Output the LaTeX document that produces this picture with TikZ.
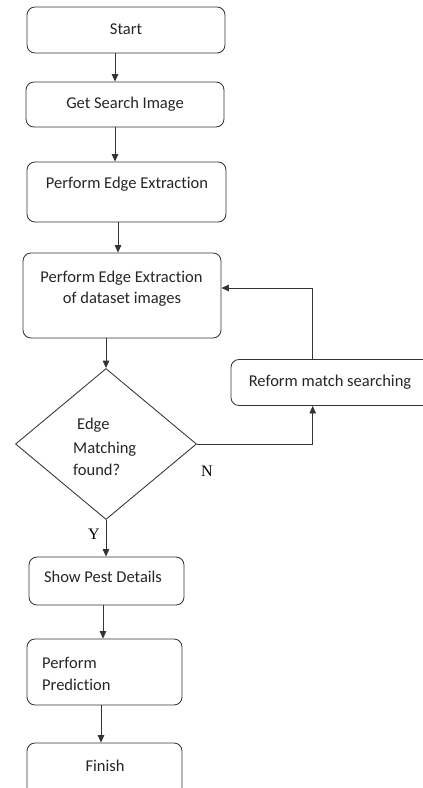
\documentclass[tikz,border=0pt]{standalone}
\usepackage{fontspec}
\setmainfont{Carlito}[Ligatures=NoCommon]
\newfontfamily\labelfont{Liberation Serif}
\usetikzlibrary{arrows.meta,shapes.geometric}

\tikzset{
  flowline/.style={draw=black!80, line width=0.85pt},
  flowarrow/.style={flowline, -{Triangle[length=7.5pt,width=6.5pt]}},
  procbox/.style={flowline, rectangle, rounded corners=8pt, inner sep=0pt, fill=white},
  decbox/.style={flowline, diamond, inner sep=0pt, fill=white},
  txt/.style={inner sep=0pt, anchor=base, text=black!85, font=\fontsize{16.5}{19}\selectfont},
  txtl/.style={txt, anchor=base west},
  yn/.style={inner sep=0pt, anchor=base, font=\labelfont\fontsize{16}{19}\selectfont}
}

\begin{document}
\begin{tikzpicture}[x=1pt, y=-1pt]
  \useasboundingbox (0,0) rectangle (423,788);
  \clip (0,0) rectangle (423,788);

  % process boxes and decision
  \node[procbox, minimum width=198pt, minimum height=46pt] (start)  at (126,30)    {};
  \node[procbox, minimum width=198pt, minimum height=45pt] (get)    at (125,104.5) {};
  \node[procbox, minimum width=199pt, minimum height=60pt] (pee)    at (126.5,192) {};
  \node[procbox, minimum width=198pt, minimum height=85pt] (ds)     at (122,295.5) {};
  \node[decbox, minimum width=181pt, minimum height=151pt, aspect=1.2] (dia) at (106,444) {};
  \node[procbox, minimum width=209pt, minimum height=46pt] (reform) at (335.5,382.5) {};
  \node[procbox, minimum width=155pt, minimum height=48pt] (show)   at (106.5,581) {};
  \node[procbox, minimum width=155pt, minimum height=66pt] (pred)   at (104.5,672) {};
  \node[procbox, minimum width=155pt, minimum height=66pt] (finish) at (104.5,776) {};

  % texts
  \node[txt] (tStart) at (126,34) {Start};
  \node[txt] (tGet) at (125,108) {Get Search Image};
  \node[txt] (tPee) at (127,188) {Perform Edge Extraction};
  \node[txt] (tDsA) at (121.5,282) {Perform Edge Extraction};
  \node[txt] (tDsB) at (122,303) {of dataset images};
  \node[txtl] (tDiaA) at (77,429) {Edge};
  \node[txtl] (tDiaB) at (73,453) {Matching};
  \node[txtl] (tDiaC) at (73,475) {found?};
  \node[txt] (tReform) at (330,386) {Reform match searching};
  \node[txt] (tShow) at (103,582) {Show Pest Details};
  \node[txtl] (tPredA) at (42,668) {Perform};
  \node[txtl] (tPredB) at (42,690) {Prediction};
  \node[txt] (tFinish) at (105,771) {Finish};

  % branch labels
  \node[yn] (lN) at (207,476) {N};
  \node[yn] (lY) at (94,539) {Y};

  % connectors
  \draw[flowarrow] ([xshift=-11pt]start.south) -- ([xshift=-10pt]get.north);
  \draw[flowarrow] ([xshift=-10pt]get.south) -- ([xshift=-11.5pt]pee.north);
  \draw[flowarrow] ([xshift=-8.5pt]pee.south) -- ([xshift=-4pt]ds.north);
  \draw[flowarrow] ([xshift=-16pt]ds.south) -- (dia.north);
  \draw[flowarrow] (dia.east) -| ([xshift=-22.8pt]reform.south);
  \draw[flowarrow] ([xshift=-22.8pt]reform.north) |- ([yshift=7.5pt]ds.east);
  \draw[flowarrow] (dia.south) -- ([xshift=-0.5pt]show.north);
  \draw[flowarrow] ([xshift=-3.5pt]show.south) -- ([xshift=-1.5pt]pred.north);
  \draw[flowarrow] ([xshift=-3.5pt]pred.south) -- ([xshift=-3.5pt]finish.north);
\end{tikzpicture}
\end{document}
